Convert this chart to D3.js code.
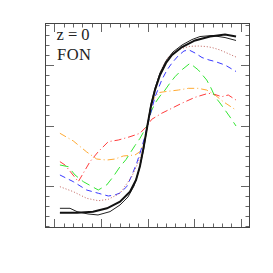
<!DOCTYPE html>
<html>
<head>
<meta charset="utf-8">
<script src="https://cdn.jsdelivr.net/npm/d3@7"></script>
<style>
  html, body { margin: 0; padding: 0; background: #fff; }
</style>
</head>
<body>
<div id="chart"></div>
<script>
// curves, [x, y] pairs in axis units
const thickBlack = [[-1.88,-0.863],[-1.51,-0.863],[-1.17,-0.853],[-0.869,-0.82],[-0.59,-0.754],[-0.376,-0.655],[-0.247,-0.54],[-0.161,-0.401],[-0.086,-0.223],[0,0.005],[0.075,0.193],[0.161,0.351],[0.268,0.5],[0.397,0.619],[0.526,0.698],[0.741,0.777],[1.02,0.842],[1.342,0.881],[1.664,0.901],[1.9,0.881]];
const thinBlack = [[-1.88,-0.82],[-1.663,-0.82],[-1.513,-0.853],[-1.277,-0.876],[-1.062,-0.886],[-0.805,-0.853],[-0.59,-0.787],[-0.419,-0.708],[-0.29,-0.599],[-0.182,-0.441],[-0.086,-0.243],[0,0.005],[0.075,0.213],[0.161,0.371],[0.268,0.52],[0.397,0.639],[0.547,0.728],[0.741,0.797],[0.955,0.851],[1.127,0.881],[1.384,0.891],[1.664,0.871],[1.9,0.842]];
const dottedRed = [[-1.88,-0.606],[-1.593,-0.655],[-1.305,-0.721],[-1.056,-0.745],[-0.841,-0.731],[-0.59,-0.671],[-0.339,-0.507],[-0.225,-0.391],[-0.124,-0.275],[-0.054,-0.144],[0,0.005],[0.075,0.173],[0.15,0.322],[0.232,0.47],[0.333,0.589],[0.446,0.678],[0.59,0.733],[0.734,0.764],[0.912,0.784],[1.09,0.787],[1.256,0.782],[1.384,0.772],[1.556,0.748],[1.728,0.713],[1.9,0.678]];
const blueDash = [[-1.88,-0.49],[-1.593,-0.556],[-1.305,-0.639],[-1.056,-0.671],[-0.841,-0.698],[-0.698,-0.688],[-0.59,-0.668],[-0.446,-0.606],[-0.343,-0.5],[-0.232,-0.374],[-0.14,-0.243],[-0.054,-0.104],[0,0.005],[0.064,0.114],[0.161,0.282],[0.305,0.45],[0.419,0.55],[0.526,0.619],[0.655,0.688],[0.783,0.738],[0.891,0.748],[1.02,0.718],[1.17,0.673],[1.32,0.649],[1.449,0.634],[1.664,0.599],[1.9,0.535]];
const greenDash = [[-1.88,-0.391],[-1.7,-0.408],[-1.556,-0.49],[-1.378,-0.556],[-1.056,-0.639],[-0.876,-0.589],[-0.741,-0.51],[-0.59,-0.408],[-0.461,-0.337],[-0.376,-0.275],[-0.268,-0.198],[-0.161,-0.127],[0,0.005],[0.075,0.134],[0.161,0.22],[0.268,0.292],[0.376,0.351],[0.483,0.421],[0.59,0.483],[0.734,0.55],[0.912,0.616],[1.09,0.55],[1.271,0.45],[1.363,0.371],[1.449,0.285],[1.556,0.223],[1.664,0.153],[1.771,0.084],[1.9,-0.005]];
const redDashDot = [[-1.88,-0.358],[-1.771,-0.391],[-1.485,-0.556],[-1.234,-0.358],[-1.056,-0.259],[-0.841,-0.16],[-0.627,-0.144],[-0.376,-0.111],[-0.161,-0.077],[0,0],[0.09,0.061],[0.305,0.121],[0.519,0.17],[0.734,0.22],[1.02,0.279],[1.305,0.319],[1.449,0.307],[1.593,0.285],[1.734,0.302],[1.9,0.252]];
const orangeDashDot = [[-1.88,-0.077],[-1.593,-0.153],[-1.305,-0.262],[-1.09,-0.332],[-0.876,-0.342],[-0.698,-0.332],[-0.519,-0.302],[-0.268,-0.292],[-0.161,-0.259],[-0.075,-0.173],[0,0],[0.09,0.236],[0.232,0.325],[0.376,0.335],[0.661,0.351],[0.876,0.368],[1.09,0.368],[1.271,0.351],[1.449,0.302],[1.627,0.236],[1.842,0.17],[1.9,0.153]];

const labels = ["z=0", "FON"];

const svgWidth = 273, svgHeight = 273;
const margin = { top: 23, right: 23, bottom: 45, left: 45 };
const width = svgWidth - margin.left - margin.right;   // 205
const height = svgHeight - margin.top - margin.bottom; // 205

const svg = d3.select("#chart")
    .append("svg")
    .attr("width", svgWidth)
    .attr("height", svgHeight)
    .append("g")
    .attr("transform", `translate(${margin.left},${margin.top})`);

const x = d3.scaleLinear().domain([-2.2, 2.2]).range([0, width]);
const y = d3.scaleLinear().domain([-1.015, 1.015]).range([height, 0]);

const xTicks = d3.range(-20, 21, 2).map(d => d / 10);     // every 0.2
const xMajor = [-2, -1, 0, 1, 2];
const yTicks = d3.range(-10, 11).map(d => d / 10);        // every 0.1
const yMajor = [-0.6, 0, 0.6];

const isMajor = (v, list) => list.some(m => Math.abs(m - v) < 1e-6);

// inward ticks on all four sides
const bigTick = 9, smallTick = 4.5;
const ticks = svg.append("g").attr("stroke", "#666").attr("stroke-width", 1);

xTicks.forEach(v => {
    const len = isMajor(v, xMajor) ? bigTick : smallTick;
    const px = Math.round(x(v)) + 0.5;
    ticks.append("line").attr("x1", px).attr("x2", px).attr("y1", height).attr("y2", height - len);
    ticks.append("line").attr("x1", px).attr("x2", px).attr("y1", 0).attr("y2", len);
});
yTicks.forEach(v => {
    const len = isMajor(v, yMajor) ? bigTick : smallTick;
    const py = Math.round(y(v)) + 0.5;
    ticks.append("line").attr("x1", 0).attr("x2", len).attr("y1", py).attr("y2", py);
    ticks.append("line").attr("x1", width).attr("x2", width - len).attr("y1", py).attr("y2", py);
});

// curves
const line = d3.line()
    .x(d => x(d[0]))
    .y(d => y(d[1]));

const series = [
    { data: orangeDashDot, color: "#ffaa33", w: 1, dash: "7,3,1,3" },
    { data: redDashDot, color: "#ff3b3b", w: 1, dash: "7,3,1,3" },
    { data: greenDash, color: "#33e633", w: 1, dash: "9,5" },
    { data: blueDash, color: "#3a3aff", w: 1, dash: "6,4" },
    { data: dottedRed, color: "#c0605a", w: 1, dash: "1,2" },
    { data: thinBlack, color: "#222", w: 1, dash: null },
    { data: thickBlack, color: "#111", w: 2, dash: null }
];

series.forEach(s => {
    svg.append("path")
        .datum(s.data)
        .attr("fill", "none")
        .attr("stroke", s.color)
        .attr("stroke-width", s.w)
        .attr("stroke-dasharray", s.dash)
        .attr("d", line);
});

// frame
svg.append("rect")
    .attr("x", 0.5)
    .attr("y", 0.5)
    .attr("width", width - 1)
    .attr("height", height - 1)
    .attr("fill", "none")
    .attr("stroke", "#444")
    .attr("stroke-width", 1);

// labels in the corner
svg.append("text")
    .attr("x", 11.5)
    .attr("y", 17)
    .attr("font-family", "Liberation Serif, serif")
    .attr("font-size", "16.5px")
    .attr("fill", "#222")
    .attr("textLength", 33)
    .attr("lengthAdjust", "spacing")
    .text(labels[0]);

svg.append("text")
    .attr("x", 12)
    .attr("y", 37)
    .attr("font-family", "Liberation Serif, serif")
    .attr("font-size", "16.5px")
    .attr("fill", "#222")
    .attr("textLength", 34)
    .attr("lengthAdjust", "spacing")
    .text(labels[1]);
</script>
</body>
</html>
